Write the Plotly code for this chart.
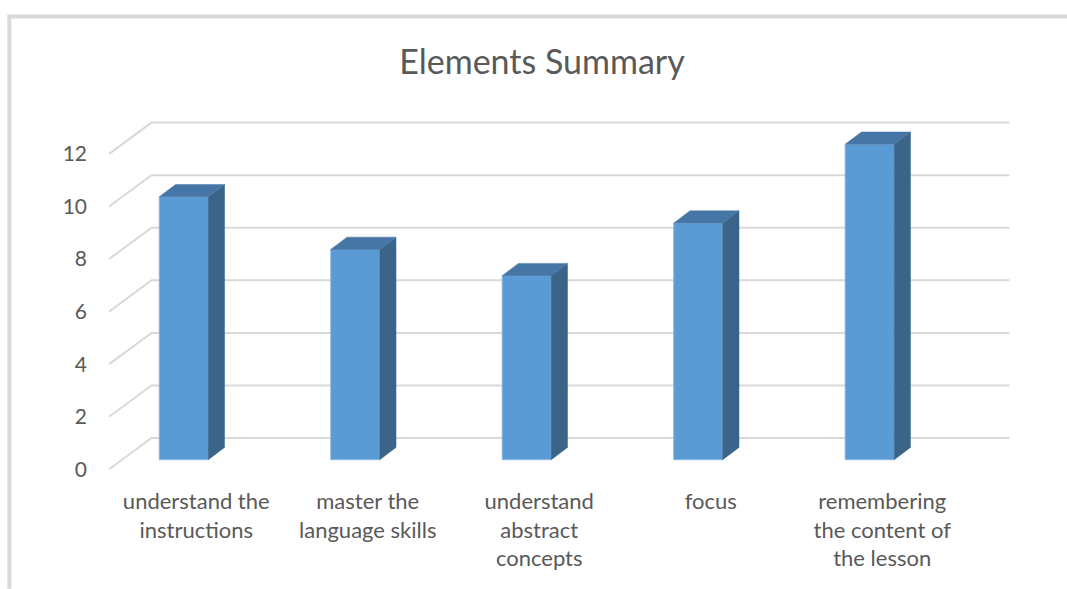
import plotly.graph_objects as go

categories = ["understand the<br>instructions", "master the<br>language skills",
              "understand<br>abstract<br>concepts", "focus",
              "remembering<br>the content of<br>the lesson"]
values = [10, 8, 7, 9, 12]
y_ticks = [0, 2, 4, 6, 8, 10, 12]

W, H = 1067, 589
ML, MR, MT, MB = 98.1, 43.3, 118.1, 102.7
XR = [-0.5, 4.9]
Y_SHIFT = 0.365
YR_BARS = [-1, 13]
YR_LBL = [YR_BARS[0] + Y_SHIFT, YR_BARS[1] + Y_SHIFT]

BAR_W = 0.286
DX, DY = 0.095, 0.468          # bar depth (x units, value units)
G_X_FRONT, G_X_BACK, G_X_END = -0.435, -0.188, 4.815
G_DY = 1.19                    # grid depth in value units

FRONT = "#5B9BD5"
TOP = "#4676A6"
SIDE = "#3A6589"
GRID = "#D9D9D9"
TXT = "#595959"
FONT = "Lato"

fig = go.Figure()

# perspective gridlines (base axes)
for v in y_ticks:
    fig.add_trace(go.Scatter(
        x=[G_X_FRONT, G_X_BACK, G_X_END], y=[v, v + G_DY, v + G_DY],
        mode="lines", line=dict(color=GRID, width=2),
        hoverinfo="skip", showlegend=False, xaxis="x", yaxis="y"))

# bar front faces (overlay axes)
fig.add_trace(go.Bar(
    x=list(range(len(values))), y=values, width=BAR_W,
    marker=dict(color=FRONT, line=dict(color="#8DB6E0", width=0.8)),
    showlegend=False, xaxis="x2", yaxis="y2"))

# side and top faces
for i, v in enumerate(values):
    xl, xr = i - BAR_W / 2, i + BAR_W / 2
    fig.add_trace(go.Scatter(
        x=[xr, xr + DX, xr + DX, xr, xr], y=[0, DY, v + DY, v, 0],
        fill="toself", fillcolor=SIDE, mode="lines",
        line=dict(color=SIDE, width=0.5),
        hoverinfo="skip", showlegend=False, xaxis="x2", yaxis="y2"))
    fig.add_trace(go.Scatter(
        x=[xl, xl + DX, xr + DX, xr, xl], y=[v, v + DY, v + DY, v, v],
        fill="toself", fillcolor=TOP, mode="lines",
        line=dict(color=TOP, width=0.5),
        hoverinfo="skip", showlegend=False, xaxis="x2", yaxis="y2"))

pw = W - ML - MR
ph = H - MT - MB
def px_x(p):
    return (p - ML) / pw
def px_y(p):
    return (H - MB - p) / ph

fig.update_layout(
    width=W, height=H,
    margin=dict(l=ML, r=MR, t=MT, b=MB, pad=0),
    paper_bgcolor="white", plot_bgcolor="rgba(0,0,0,0)",
    font=dict(family=FONT, color=TXT),
    title=dict(text="Elements Summary", x=542 / W, y=1 - 62 / H,
               xanchor="center", yanchor="middle",
               font=dict(family=FONT, size=34, color=TXT)),
    xaxis=dict(range=XR, showgrid=False, zeroline=False, showline=False,
               tickmode="array",
               tickvals=[i + 0.073 for i in range(len(categories))],
               ticktext=categories, ticks="", tickfont=dict(size=22, color=TXT),
               ticklabelstandoff=0, fixedrange=True),
    yaxis=dict(range=YR_LBL, showgrid=False, zeroline=False, showline=False,
               tickmode="array", tickvals=y_ticks,
               ticktext=[str(t) for t in y_ticks], ticks="",
               tickfont=dict(size=21, color=TXT), ticklabelstandoff=10,
               fixedrange=True),
    xaxis2=dict(range=XR, overlaying="x", visible=False, fixedrange=True),
    yaxis2=dict(range=YR_BARS, overlaying="y", visible=False, fixedrange=True),
    shapes=[
        dict(type="line", xref="paper", yref="paper",
             x0=px_x(9.5), x1=px_x(9.5), y0=px_y(589), y1=px_y(16.5),
             line=dict(color=GRID, width=4), layer="below"),
        dict(type="line", xref="paper", yref="paper",
             x0=px_x(7.5), x1=px_x(1067), y0=px_y(16.5), y1=px_y(16.5),
             line=dict(color=GRID, width=4), layer="below"),
    ],
)

fig.write_html("out.html")
